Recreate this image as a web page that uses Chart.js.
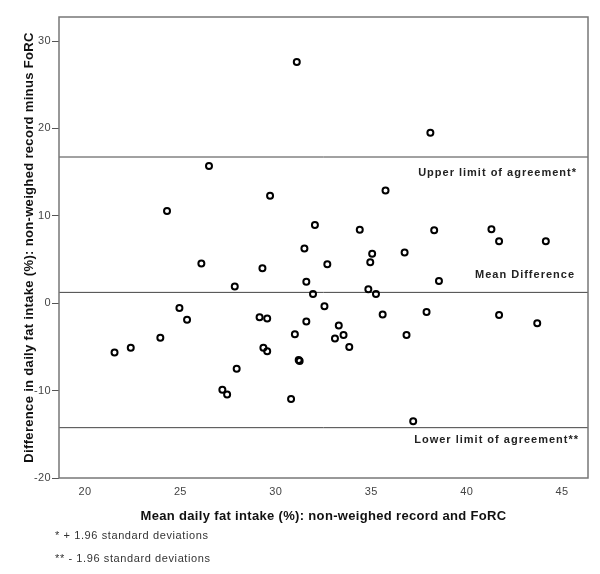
<!DOCTYPE html>
<html>
<head>
<meta charset="utf-8">
<script src="https://cdn.jsdelivr.net/npm/chart.js@4.4.1/dist/chart.umd.min.js"></script>
<style>
body{margin:0;background:#fff;font-family:Arial,"Liberation Sans",sans-serif;}
#wrap{position:relative;width:600px;height:574px;}
#wrap canvas{position:absolute;left:0;top:0;}
.note{position:absolute;left:55px;font-size:11px;color:#333;white-space:nowrap;letter-spacing:0.6px;}
</style>
</head>
<body>
<div id="wrap">
<canvas id="blandChart" width="600" height="574"></canvas>
<div class="note" style="top:529px">* + 1.96 standard deviations</div>
<div class="note" style="top:552px">** - 1.96 standard deviations</div>
</div>
<script>
// mean of the two methods (x) and difference non-weighed minus FoRC (y)
const meanFat = [
31.1, 38.1, 26.5, 35.75, 29.7, 24.3, 32.05, 34.4, 38.3, 41.3,
41.7, 44.15, 31.5, 36.75, 35.05, 34.95, 26.1, 32.7, 29.3, 38.55,
31.6, 27.85, 34.85, 31.95, 35.25, 32.55, 24.95, 37.9, 35.6, 41.7,
29.15, 29.55, 25.35, 31.6, 43.7, 33.3, 31.0, 33.55, 36.85, 23.95,
33.1, 33.85, 22.4, 29.35, 29.55, 21.55, 31.2, 31.25, 27.95, 27.2,
27.45, 30.8, 37.2
];
const diffFat = [
27.6, 19.5, 15.7, 12.9, 12.3, 10.55, 8.95, 8.4, 8.35, 8.45,
7.1, 7.1, 6.25, 5.8, 5.65, 4.7, 4.55, 4.45, 4.0, 2.55,
2.45, 1.9, 1.6, 1.05, 1.05, -0.35, -0.55, -1.0, -1.3, -1.35,
-1.6, -1.75, -1.9, -2.1, -2.3, -2.55, -3.55, -3.65, -3.65, -3.95,
-4.05, -5.0, -5.1, -5.1, -5.5, -5.65, -6.5, -6.6, -7.5, -9.9,
-10.45, -10.95, -13.5
];

const xTicks = [20, 25, 30, 35, 40, 45];
const yTicks = [-20, -10, 0, 10, 20, 30];

const meanDiff = 1.24;
const upperLimit = 16.73;
const lowerLimit = -14.24;
const limitLabels = ['Upper limit of agreement*', 'Mean Difference', 'Lower limit of agreement**'];

const xMin = 18.64, xMax = 46.36;
const yMin = -20, yMax = 32.75;

Chart.defaults.font.family = 'Arial, "Liberation Sans", sans-serif';

const points = meanFat.map((m, i) => ({x: m, y: diffFat[i]}));

function limitLine(v){
return {
type: 'line',
data: [{x: xMin, y: v}, {x: xMax, y: v}],
borderColor: '#444',
borderWidth: 1,
pointRadius: 0,
order: 2
};
}

// axis text in the original is slightly spaced out
const axisSpacing = {
id: 'axisSpacing',
beforeDraw(chart){ chart.ctx.letterSpacing = '0.33px'; },
beforeDatasetsDraw(chart){ chart.ctx.letterSpacing = '0px'; }
};

// frame round the plot area
const framePlugin = {
id: 'frame',
afterDatasetsDraw(chart){
const a = chart.chartArea;
const c = chart.ctx;
c.save();
c.strokeStyle = '#777';
c.lineWidth = 1.5;
c.strokeRect(a.left, a.top, a.right - a.left, a.bottom - a.top);
c.restore();
}
};

// text next to the limit lines
const limitText = {
id: 'limitText',
afterDatasetsDraw(chart){
const c = chart.ctx;
const y = chart.scales.y;
const right = chart.chartArea.right - 11;
c.save();
c.font = 'bold 11px Arial, "Liberation Sans", sans-serif';
c.letterSpacing = '1px';
c.fillStyle = '#222';
c.textAlign = 'right';
c.textBaseline = 'middle';
c.fillText(limitLabels[0], right, y.getPixelForValue(upperLimit) + 16);
c.fillText(limitLabels[1], right - 2, y.getPixelForValue(meanDiff) - 17);
c.fillText(limitLabels[2], right + 2, y.getPixelForValue(lowerLimit) + 12);
c.restore();
}
};

new Chart(document.getElementById('blandChart'), {
type: 'scatter',
data: {
datasets: [
{
data: points,
pointStyle: 'circle',
pointRadius: 3,
pointBorderWidth: 2,
borderColor: '#000',
backgroundColor: 'rgba(0,0,0,0)',
order: 1
},
limitLine(upperLimit),
limitLine(meanDiff),
limitLine(lowerLimit)
]
},
options: {
responsive: false,
animation: false,
layout: {padding: {top: 17, right: 12, left: 0, bottom: 0}},
plugins: {legend: {display: false}, tooltip: {enabled: false}},
scales: {
x: {
type: 'linear',
min: xMin,
max: xMax,
afterBuildTicks: s => { s.ticks = xTicks.map(v => ({value: v})); },
afterFit: s => { s.height = 96; },
grid: {display: false, drawTicks: false},
border: {display: false},
ticks: {color: '#444', font: {size: 11}, padding: 7},
title: {
display: true,
text: 'Mean daily fat intake (%): non-weighed record and FoRC',
color: '#111',
font: {size: 13, weight: 'bold'},
padding: {top: 0, bottom: 50}
}
},
y: {
min: yMin,
max: yMax,
afterBuildTicks: s => { s.ticks = yTicks.map(v => ({value: v})); },
afterFit: s => { s.width = 59; },
grid: {drawOnChartArea: false, drawTicks: true, tickLength: 7, color: '#555'},
border: {display: false},
ticks: {color: '#444', font: {size: 11}, padding: 1},
title: {
display: true,
text: 'Difference in daily fat intake (%): non-weighed record minus FoRC',
color: '#111',
font: {size: 13, weight: 'bold'},
padding: {top: 22, bottom: 0}
}
}
}
},
plugins: [axisSpacing, framePlugin, limitText]
});
</script>
</body>
</html>
